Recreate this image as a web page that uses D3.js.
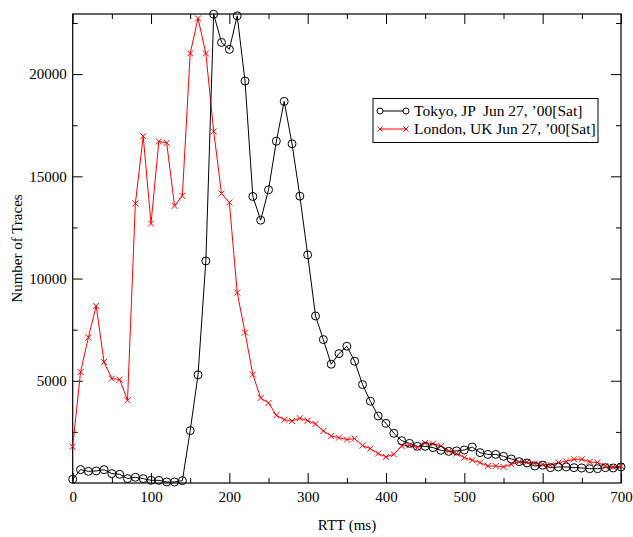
<!DOCTYPE html>
<html lang="en">
<head>
<meta charset="UTF-8">
<title>RTT distribution</title>
<script src="https://d3js.org/d3.v7.min.js"></script>
<style>
    body { margin: 0; background: #fff; }
    svg text { font-family: 'Liberation Serif', 'Times New Roman', Times, serif; fill: #000; }
</style>
</head>
<body>
<svg width="633" height="537"></svg>
<script>
// RTT bins (ms), one every 10 ms
const rtt = d3.range(0, 701, 10);

// Tokyo, JP  Jun 27, '00[Sat]
const tokyo = [
    180, 655, 570, 590, 650, 460, 425, 215, 280, 215,
    130, 130, 50, 50, 115, 2560, 5290, 10860, 22930, 21550,
    21210, 22850, 19660, 14015, 12855, 14340, 16720, 18665, 16590, 14030,
    11160, 8170, 7015, 5810, 6330, 6690, 5955, 4815, 4000, 3280,
    2920, 2430, 2070, 1940, 1795, 1795, 1730, 1600, 1550, 1570,
    1615, 1760, 1485, 1400, 1400, 1305, 1175, 1045, 980, 830,
    870, 750, 785, 785, 750, 735, 700, 700, 750, 735,
    785
];

// London, UK Jun 27, '00[Sat]
const london = [
    1780, 5430, 7115, 8660, 5920, 5110, 5060, 4045, 13670, 16965,
    12690, 16705, 16640, 13555, 14045, 21010, 22725, 21010, 17195, 14160,
    13720, 9315, 7360, 5305, 4160, 3915, 3315, 3100, 3035, 3165,
    3050, 2890, 2545, 2300, 2220, 2125, 2170, 1830, 1680, 1440,
    1275, 1405, 1810, 1845, 1730, 1960, 1925, 1810, 1570, 1440,
    1240, 1110, 1000, 830, 830, 785, 915, 1030, 1030, 950,
    915, 870, 1000, 1060, 1160, 1160, 1030, 1000, 830, 785,
    830
];

const seriesNames = ["Tokyo, JP  Jun 27, \u201900[Sat]", "London, UK Jun 27, \u201900[Sat]"];
const xTicks = [0, 100, 200, 300, 400, 500, 600, 700];
const yTicks = [5000, 10000, 15000, 20000];

const margin = { top: 14, right: 12, bottom: 54, left: 72.7 };
const W = 633, H = 537;
const width = W - margin.left - margin.right;
const height = H - margin.top - margin.bottom;
const serif = "'Liberation Serif', 'Times New Roman', Times, serif";

const svg = d3.select("svg");
svg.append("rect").attr("width", W).attr("height", H).attr("fill", "#fff");

const g = svg.append("g").attr("transform", `translate(${margin.left},${margin.top})`);

const x = d3.scaleLinear().domain([0, 700]).range([0, width]);
const y = d3.scaleLinear().domain([0, 22940]).range([height, 0]);

// minor ticks every 50 ms / 2500 traces, ticks drawn inward on all four sides
const xMinor = d3.range(50, 700, 100);
const yMinor = d3.range(2500, 22940, 5000);

function tickSide(axisFn, scale, values, size, tf, labels) {
    const a = g.append("g").attr("transform", tf)
        .call(axisFn(scale).tickValues(values).tickSize(size).tickSizeOuter(0)
            .tickFormat(labels ? d3.format("d") : ""));
    a.attr("font-family", serif).attr("font-size", 15);
    a.select(".domain").remove();
    a.selectAll("line").attr("stroke", "#000");
    return a;
}

// bottom
const xb = tickSide(d3.axisBottom, x, xTicks, -10, `translate(0,${height})`, true);
xb.selectAll("text").attr("y", 8).attr("dy", "0.71em");
tickSide(d3.axisBottom, x, xMinor, -5, `translate(0,${height})`, false);
// top
tickSide(d3.axisTop, x, xTicks, -10, "translate(0,0)", false);
tickSide(d3.axisTop, x, xMinor, -5, "translate(0,0)", false);
// left
const yl = tickSide(d3.axisLeft, y, yTicks, -10, "translate(0,0)", true);
yl.selectAll("text").attr("x", -6);
tickSide(d3.axisLeft, y, yMinor, -5, "translate(0,0)", false);
// right
tickSide(d3.axisRight, y, yTicks, -10, `translate(${width},0)`, false);
tickSide(d3.axisRight, y, yMinor, -5, `translate(${width},0)`, false);

// frame
g.append("rect").attr("width", width).attr("height", height)
    .attr("fill", "none").attr("stroke", "#000").attr("stroke-width", 1.2);

// data
const tokyoData = rtt.map((r, i) => [r, tokyo[i]]);
const londonData = rtt.map((r, i) => [r, london[i]]);
const line = d3.line().x(d => x(d[0])).y(d => y(d[1]));

g.append("path").datum(londonData).attr("d", line)
    .attr("fill", "none").attr("stroke", "#ff0000").attr("stroke-width", 1);
g.append("path").datum(tokyoData).attr("d", line)
    .attr("fill", "none").attr("stroke", "#000").attr("stroke-width", 1);

function cross(sel, s) {
    return sel.append("path").attr("d", `M${-s},${-s}L${s},${s}M${-s},${s}L${s},${-s}`)
        .attr("stroke", "#ff0000").attr("stroke-width", 1).attr("fill", "none");
}

g.selectAll(".lon").data(londonData).enter().append("g")
    .attr("class", "lon")
    .attr("transform", d => `translate(${x(d[0])},${y(d[1])})`)
    .call(sel => cross(sel, 3));

g.selectAll(".tok").data(tokyoData).enter().append("circle")
    .attr("class", "tok")
    .attr("cx", d => x(d[0])).attr("cy", d => y(d[1])).attr("r", 4)
    .attr("fill", "none").attr("stroke", "#000").attr("stroke-width", 1);

// axis titles
svg.append("text").attr("x", 347).attr("y", 530).attr("text-anchor", "middle")
    .attr("font-family", serif).attr("font-size", 15).text("RTT (ms)");
svg.append("text").attr("transform", "translate(22,248.5) rotate(-90)")
    .attr("text-anchor", "middle").attr("font-family", serif).attr("font-size", 15)
    .text("Number of Traces");

// legend
const lg = svg.append("g").attr("class", "legend");
lg.append("rect").attr("x", 373).attr("y", 98.5).attr("width", 225).attr("height", 44)
    .attr("fill", "#fff").attr("stroke", "#000").attr("stroke-width", 1);
const rows = [
    { name: seriesNames[0], color: "#000", y: 111, mark: "circle" },
    { name: seriesNames[1], color: "#ff0000", y: 129, mark: "cross" }
];
rows.forEach(r => {
    lg.append("line").attr("x1", 380).attr("x2", 406).attr("y1", r.y).attr("y2", r.y)
        .attr("stroke", r.color).attr("stroke-width", 1);
    [380, 406].forEach(cx => {
        if (r.mark === "circle") {
            lg.append("circle").attr("cx", cx).attr("cy", r.y).attr("r", 3)
                .attr("fill", "#fff").attr("stroke", "#000");
        } else {
            cross(lg.append("g").attr("transform", `translate(${cx},${r.y})`), 2.5);
        }
    });
    lg.append("text").attr("x", 414).attr("y", r.y + 5).attr("font-size", 15.5)
        .attr("font-family", serif).style("white-space", "pre").text(r.name);
});
</script>
</body>
</html>
